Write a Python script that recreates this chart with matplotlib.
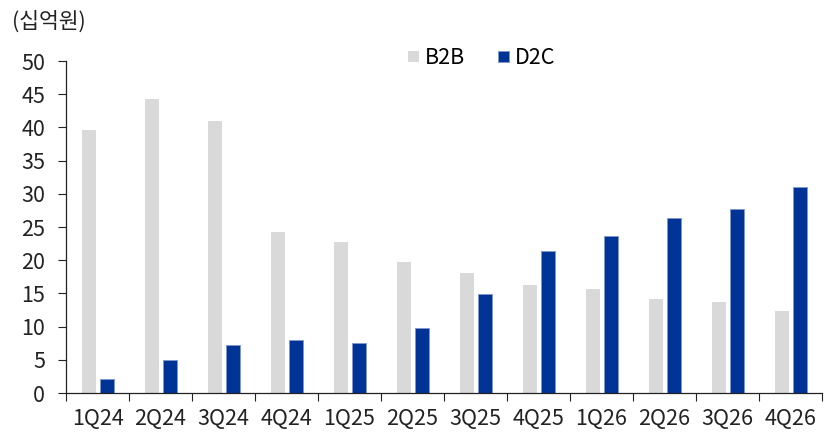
import matplotlib
matplotlib.use("Agg")
import matplotlib.pyplot as plt
import numpy as np

plt.rcParams['font.family'] = ['Noto Sans CJK KR', 'DejaVu Sans']

quarters = ["1Q24", "2Q24", "3Q24", "4Q24", "1Q25", "2Q25", "3Q25", "4Q25",
            "1Q26", "2Q26", "3Q26", "4Q26"]
b2b = [39.6, 44.3, 41.0, 24.2, 22.7, 19.7, 18.1, 16.3, 15.7, 14.2, 13.7, 12.3]
d2c = [2.1, 5.0, 7.2, 8.0, 7.5, 9.8, 14.9, 21.4, 23.6, 26.4, 27.7, 31.0]
y_ticks = [0, 5, 10, 15, 20, 25, 30, 35, 40, 45, 50]

fig = plt.figure(figsize=(8.26, 4.34), dpi=100)
ax = fig.add_axes([66/826, 41/434, (822-66)/826, (393-61)/434])

x = np.arange(len(quarters))
w = 0.22
ax.bar(x - 0.135, b2b, width=w, color="#d9d9d9", label="B2B", zorder=2)
ax.bar(x + 0.145, d2c, width=w, color="#003396", edgecolor="#7f97cc",
       linewidth=0.6, label="D2C", zorder=2)

fs = 15.5
ax.set_xlim(-0.5, len(quarters) - 0.5)
ax.set_ylim(0, 50)
ax.set_yticks(y_ticks)
ax.tick_params(axis='y', labelsize=fs, length=6, width=0.8, direction='out',
               pad=9, colors='#222222')
ax.set_xticks(x)
ax.set_xticklabels(quarters)
ax.tick_params(axis='x', length=0, labelsize=fs, pad=11, colors='#222222')
ax.set_xticks(np.arange(len(quarters) + 1) - 0.5, minor=True)
ax.tick_params(axis='x', which='minor', length=6, width=0.8, direction='out',
               color='#222222')

for s in ['top', 'right']:
    ax.spines[s].set_visible(False)
for s in ['left', 'bottom']:
    ax.spines[s].set_linewidth(0.9)
    ax.spines[s].set_color('#222222')

ax.legend(loc='upper center', bbox_to_anchor=(0.55, 1.10), ncol=2, frameon=False,
          fontsize=fs, handlelength=0.5, handleheight=0.35, handletextpad=0.3,
          columnspacing=1.5)

fig.text(12/826, 1 - 22/434, "(십억원)", fontsize=fs, va='center', ha='left',
         color='#222222')

fig.savefig("out.png", dpi=100)
